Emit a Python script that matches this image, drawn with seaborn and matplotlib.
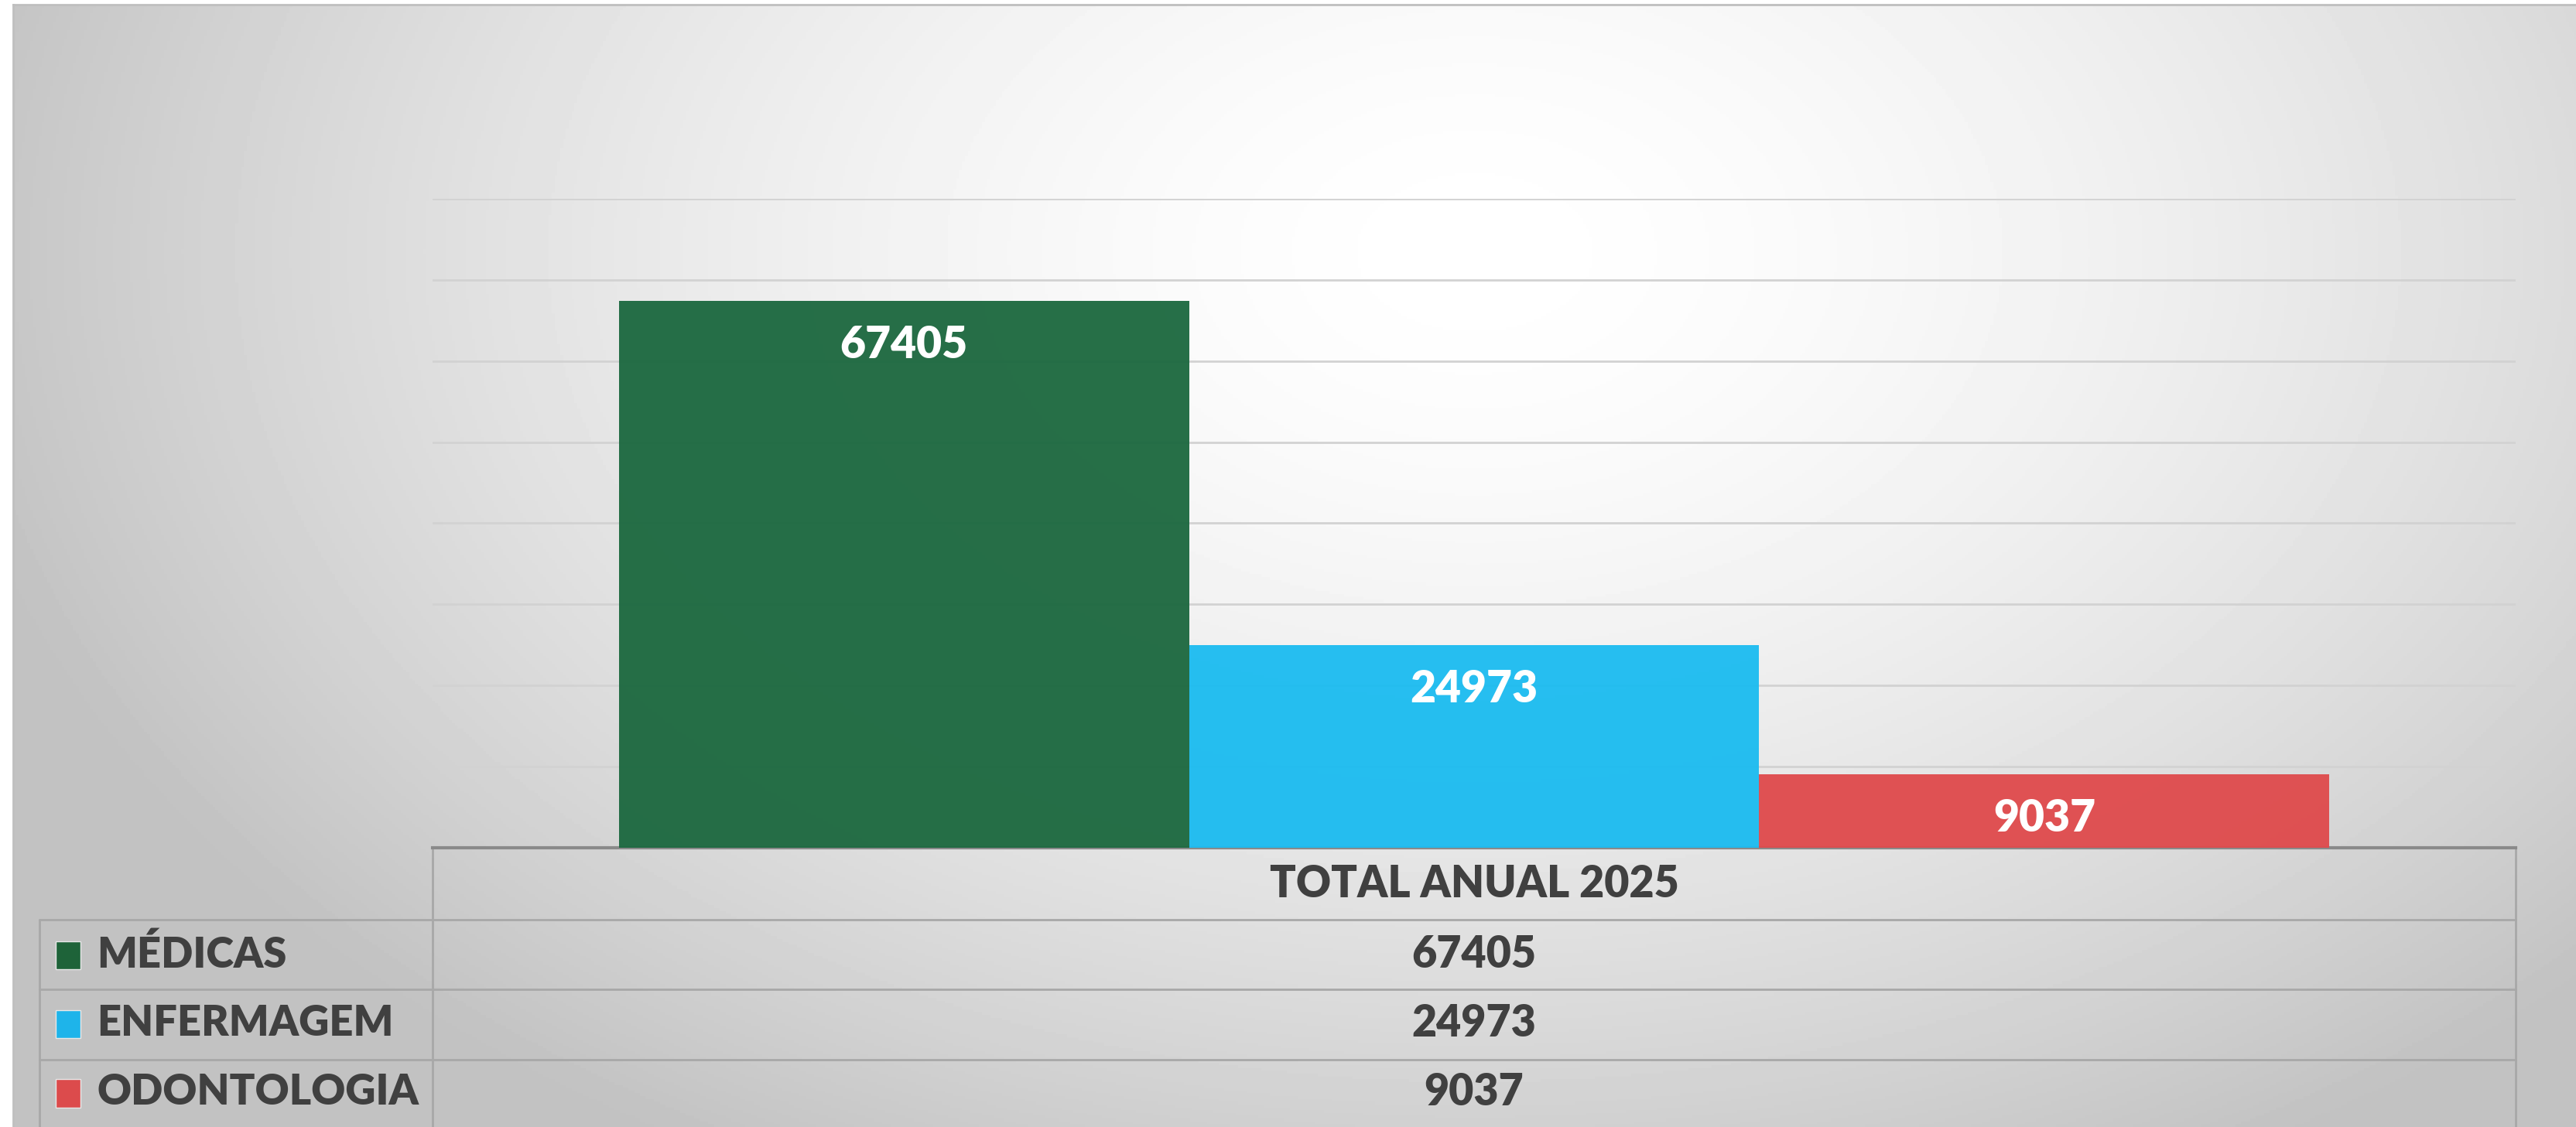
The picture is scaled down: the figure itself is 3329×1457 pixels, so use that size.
import numpy as np
import pandas as pd
import matplotlib.pyplot as plt
import seaborn as sns
from matplotlib.patches import Rectangle

# dados
periodo = ['TOTAL ANUAL 2025']
tipos = ['MÉDICAS', 'ENFERMAGEM', 'ODONTOLOGIA']
valores = [67405, 24973, 9037]
cores = ['#1d6940', '#1dbcf0', '#df4b4d']
cores_legenda = ['#1e6339', '#1eb4ea', '#dc4b4c']

df = pd.DataFrame({'periodo': periodo * 3, 'tipo': tipos, 'valor': valores})

sns.set_theme(style='white')
plt.rcParams['font.family'] = ['Lato', 'DejaVu Sans']

W, H = 1568, 686  # coordenadas de referencia
fig = plt.figure(figsize=(33.3, 14.57), dpi=100)

# fundo com gradiente radial
bg = fig.add_axes([8 / W, 0, 1 - 8 / W, 1 - 3 / H], zorder=-5)
yy, xx = np.mgrid[0:1:400j, 0:1:900j]
r = np.sqrt(((xx - 0.57) / 0.62) ** 2 + ((yy - 0.22) / 0.95) ** 2)
shade = np.clip(1.0 - 0.25 * r ** 1.6, 0.76, 1.0)
bg.imshow(shade, cmap='gray', vmin=0, vmax=1, aspect='auto', extent=[0, 1, 1, 0])
bg.set_xticks([])
bg.set_yticks([])
for s in ['left', 'top']:
    bg.spines[s].set_color('#bfbfbf')
    bg.spines[s].set_linewidth(2)
for s in ['right', 'bottom']:
    bg.spines[s].set_visible(False)

x0, x1, ytop, ybot = 263, 1531, 121, 516
ax = fig.add_axes([x0 / W, 1 - ybot / H, (x1 - x0) / W, (ybot - ytop) / H])
ax.patch.set_alpha(0)

sns.barplot(data=df, x='periodo', y='valor', hue='tipo', palette=cores, saturation=1,
            width=0.821, alpha=0.96, legend=False, ax=ax, zorder=3, edgecolor='none')

ax.set_xlim(-0.5, 0.5)
ax.set_ylim(0, 80000)
ax.set_yticks(np.arange(0, 80001, 10000))
ax.yaxis.grid(True, color='#d2d2d2', linewidth=2, zorder=0)
ax.set_axisbelow(True)
ax.set_yticklabels([])
ax.set_xticks([])
ax.set_xlabel('')
ax.set_ylabel('')
for s in ['left', 'top', 'right']:
    ax.spines[s].set_visible(False)
ax.spines['bottom'].set_color('#8a8a8a')
ax.spines['bottom'].set_linewidth(3)

fs = 40
fw = 'heavy'
for c in ax.containers:
    for bar in c:
        v = bar.get_height()
        ax.annotate(f'{int(v)}', (bar.get_x() + bar.get_width() / 2, v),
                    xytext=(0, -22), textcoords='offset points', ha='center', va='top',
                    color='white', fontsize=fs + 1, fontweight=fw, zorder=5)

# tabela de dados
def fy(y):
    return (ybot - y) / (ybot - ytop)

def fx(x):
    return (x - x0) / (x1 - x0)

lc = '#a8a8a8'
linhas = [560, 602, 645, 688]
for y in linhas:
    ax.plot([fx(24), 1], [fy(y), fy(y)], transform=ax.transAxes, color=lc, lw=2, clip_on=False)
ax.plot([1, 1], [fy(516), fy(688)], transform=ax.transAxes, color=lc, lw=2, clip_on=False)
ax.plot([0, 0], [fy(516), fy(688)], transform=ax.transAxes, color=lc, lw=2, clip_on=False)
ax.plot([fx(24), fx(24)], [fy(560), fy(688)], transform=ax.transAxes, color=lc, lw=2, clip_on=False)

txt = '#404040'
ax.text(0.5, fy(538), periodo[0], transform=ax.transAxes, ha='center', va='center',
        fontsize=fs, fontweight=fw, color=txt)
centros = [581, 623, 665]
for tipo, v, cl, yc in zip(tipos, valores, cores_legenda, centros):
    ax.text(0.5, fy(yc), str(v), transform=ax.transAxes, ha='center', va='center',
            fontsize=fs, fontweight=fw, color=txt)
    ax.add_patch(Rectangle((fx(34), fy(yc + 9)), fx(49) - fx(34), fy(yc - 8) - fy(yc + 9),
                           transform=ax.transAxes, facecolor=cl, edgecolor='#e8e8e8',
                           lw=1, clip_on=False))
    ax.text(fx(59), fy(yc), tipo, transform=ax.transAxes, ha='left', va='center',
            fontsize=fs - 1, fontweight=fw, color=txt)

fig.savefig('out.png', dpi=100)
